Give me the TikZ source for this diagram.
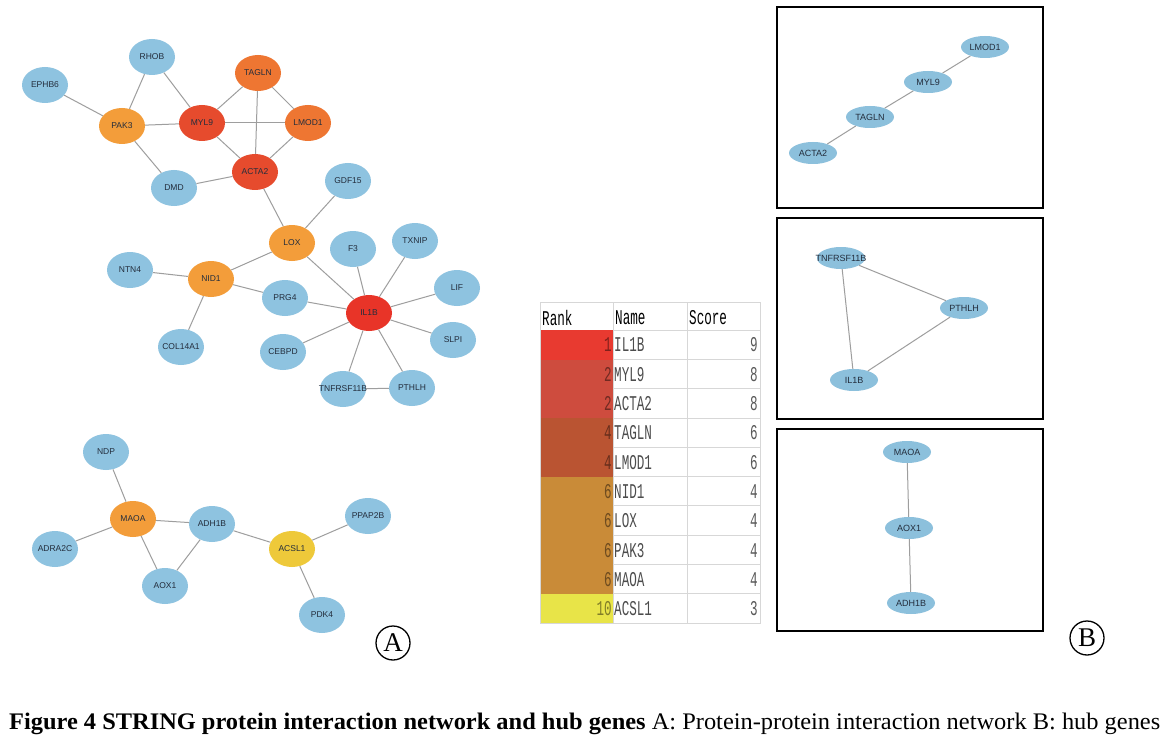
\documentclass[tikz,border=0pt]{standalone}
\usepackage{fontspec}
\usepackage{graphicx}
\setmainfont{Liberation Serif}
\newfontfamily\genefont{Liberation Sans}
\newfontfamily\tabfont{Liberation Mono}
\usetikzlibrary{shapes.geometric}
\definecolor{gblue}{RGB}{142,195,224}
\definecolor{bblue}{RGB}{140,192,220}
\definecolor{cRed}{RGB}{232,52,40}
\definecolor{cRedOr}{RGB}{230,75,45}
\definecolor{cOr}{RGB}{238,118,50}
\definecolor{cLtOr}{RGB}{243,157,58}
\definecolor{cYel}{RGB}{238,201,58}
\definecolor{edgegray}{RGB}{158,158,158}
\definecolor{gtext}{RGB}{35,45,60}
\definecolor{tA}{RGB}{232,58,48}
\definecolor{tB}{RGB}{206,76,62}
\definecolor{tC}{RGB}{186,84,50}
\definecolor{tD}{RGB}{201,139,56}
\definecolor{tE}{RGB}{232,228,72}
\definecolor{gridgray}{RGB}{215,215,215}
\newcommand\gl[1]{\makebox[0pt]{#1}}
\newcommand\tabtxt[1]{\scalebox{0.6}[1]{\tabfont\fontsize{21}{21}\selectfont #1}}
\tikzset{
  gene/.style={ellipse, minimum width=46, minimum height=36, inner sep=0, fill=gblue,
     text=gtext, font=\genefont\fontsize{8.5}{10}\selectfont},
  bgene/.style={ellipse, minimum width=48, minimum height=22, inner sep=0, fill=bblue,
     text=gtext, font=\genefont\fontsize{9}{10}\selectfont},
  link/.style={draw=edgegray, line width=1},
  panel/.style={draw=black, line width=2.6},
  rankcell/.style={rectangle, minimum width=73, minimum height=29.3, inner sep=0, anchor=north west},
  lefttxt/.style={anchor=west, inner sep=0, text=black!70},
  righttxt/.style={anchor=east, inner sep=0},
  panellabel/.style={circle, draw=black, line width=1.3, minimum size=34, inner sep=0,
     font=\fontsize{27}{27}\selectfont}
}
\begin{document}
\begin{tikzpicture}[x=1pt,y=-1pt]
\useasboundingbox[fill=white] (0,0) rectangle (1168,741);
% ---------- network A ----------
\node[gene] (RHOB) at (152,57) {\gl{RHOB}};
\node[gene] (EPHB6) at (45,85) {\gl{EPHB6}};
\node[gene, fill=cOr] (TAGLN) at (258,73) {\gl{TAGLN}};
\node[gene, fill=cLtOr] (PAK3) at (122,126) {\gl{PAK3}};
\node[gene, fill=cRedOr] (MYL9) at (202,123) {\gl{MYL9}};
\node[gene, fill=cOr] (LMOD1) at (308,123) {\gl{LMOD1}};
\node[gene, fill=cRedOr] (ACTA2) at (255,172) {\gl{ACTA2}};
\node[gene] (DMD) at (174,188) {\gl{DMD}};
\node[gene] (GDF15) at (348,181) {\gl{GDF15}};
\node[gene, fill=cLtOr] (LOX) at (292,243) {\gl{LOX}};
\node[gene] (F3) at (353,249) {\gl{F3}};
\node[gene] (TXNIP) at (415,241) {\gl{TXNIP}};
\node[gene] (NTN4) at (130,270) {\gl{NTN4}};
\node[gene, fill=cLtOr] (NID1) at (211,279) {\gl{NID1}};
\node[gene] (LIF) at (457,288) {\gl{LIF}};
\node[gene] (PRG4) at (285,298) {\gl{PRG4}};
\node[gene, fill=cRed] (IL1B) at (369,313) {\gl{IL1B}};
\node[gene] (SLPI) at (453,340) {\gl{SLPI}};
\node[gene] (COL14A1) at (181,347) {\gl{COL14A1}};
\node[gene] (CEBPD) at (283,352) {\gl{CEBPD}};
\node[gene] (TNFRSF11B) at (343,389) {\gl{TNFRSF11B}};
\node[gene] (PTHLH) at (412,388) {\gl{PTHLH}};
\node[gene] (NDP) at (106,452) {\gl{NDP}};
\node[gene, fill=cLtOr] (MAOA) at (133,519) {\gl{MAOA}};
\node[gene] (ADH1B) at (212,524) {\gl{ADH1B}};
\node[gene] (PPAP2B) at (368,516) {\gl{PPAP2B}};
\node[gene] (ADRA2C) at (55,549) {\gl{ADRA2C}};
\node[gene, fill=cYel] (ACSL1) at (292,549) {\gl{ACSL1}};
\node[gene] (AOX1) at (165,586) {\gl{AOX1}};
\node[gene] (PDK4) at (322,615) {\gl{PDK4}};
\foreach \a/\b in {EPHB6/PAK3, RHOB/PAK3, RHOB/MYL9, PAK3/MYL9, PAK3/DMD,
  MYL9/TAGLN, MYL9/LMOD1, MYL9/ACTA2, TAGLN/LMOD1, TAGLN/ACTA2, LMOD1/ACTA2,
  DMD/ACTA2, ACTA2/LOX, GDF15/LOX, LOX/NID1, LOX/IL1B, NTN4/NID1, NID1/PRG4,
  NID1/COL14A1, PRG4/IL1B, F3/IL1B, TXNIP/IL1B, LIF/IL1B, SLPI/IL1B, CEBPD/IL1B,
  TNFRSF11B/IL1B, PTHLH/IL1B, TNFRSF11B/PTHLH, NDP/MAOA, MAOA/ADH1B, MAOA/ADRA2C,
  MAOA/AOX1, AOX1/ADH1B, ADH1B/ACSL1, ACSL1/PPAP2B, ACSL1/PDK4}
  \draw[link] (\a) -- (\b);
\node[panellabel] (labA) at (393,643) {A};
% ---------- table ----------
\foreach \i/\c in {0/tA,1/tB,2/tB,3/tC,4/tC,5/tD,6/tD,7/tD,8/tD,9/tE}
  \node[rankcell, fill=\c] (rc\i) at (540,{330+\i*29.3}) {};
\foreach \i in {0,...,10}
  \draw[gridgray, line width=0.8] (613,{330+\i*29.3}) -- (760,{330+\i*29.3});
\draw[gridgray, line width=0.8] (540,302) rectangle (760,623);
\draw[gridgray, line width=0.8] (613,302) -- (613,623);
\draw[gridgray, line width=0.8] (687,302) -- (687,623);
\node[anchor=west, inner sep=0] (hRank) at (542,318) {\tabtxt{Rank}};
\node[anchor=west, inner sep=0] (hName) at (615,318) {\tabtxt{Name}};
\node[anchor=west, inner sep=0] (hScore) at (689,318) {\tabtxt{Score}};
\foreach \i/\r/\n/\s/\c in {0/1/IL1B/9/tA, 1/2/MYL9/8/tB, 2/2/ACTA2/8/tB, 3/4/TAGLN/6/tC,
   4/4/LMOD1/6/tC, 5/6/NID1/4/tD, 6/6/LOX/4/tD, 7/6/PAK3/4/tD, 8/6/MAOA/4/tD, 9/10/ACSL1/3/tE}{
  \node[righttxt, text=\c!55!black] (rk\i) at (612,{345+\i*29.3}) {\tabtxt{\r}};
  \node[lefttxt] (nm\i) at (614,{345+\i*29.3}) {\tabtxt{\n}};
  \node[righttxt, text=black!65] (sc\i) at (758,{345+\i*29.3}) {\tabtxt{\s}};
}
% ---------- panels B ----------
\draw[panel] (777,7) rectangle (1043,208);
\draw[panel] (777,218) rectangle (1043,419);
\draw[panel] (777,429) rectangle (1043,631);
\node[bgene] (bLMOD1) at (985,47) {\gl{LMOD1}};
\node[bgene] (bMYL9) at (928,82) {\gl{MYL9}};
\node[bgene] (bTAGLN) at (870,117) {\gl{TAGLN}};
\node[bgene] (bACTA2) at (813,153) {\gl{ACTA2}};
\draw[link] (bLMOD1) -- (bMYL9);
\draw[link] (bMYL9) -- (bTAGLN);
\draw[link] (bTAGLN) -- (bACTA2);
\node[bgene] (bTNF) at (841,258) {\gl{TNFRSF11B}};
\node[bgene] (bPTHLH) at (964,308) {\gl{PTHLH}};
\node[bgene] (bIL1B) at (854,380) {\gl{IL1B}};
\draw[link] (bTNF) -- (bPTHLH);
\draw[link] (bTNF) -- (bIL1B);
\draw[link] (bPTHLH) -- (bIL1B);
\node[bgene] (bMAOA) at (907,452) {\gl{MAOA}};
\node[bgene] (bAOX1) at (909,528) {\gl{AOX1}};
\node[bgene] (bADH1B) at (911,603) {\gl{ADH1B}};
\draw[link] (bMAOA) -- (bAOX1);
\draw[link] (bAOX1) -- (bADH1B);
\node[panellabel] (labB) at (1087,638) {B};
% ---------- caption ----------
\node[inner sep=0, anchor=base west] (cap) at (9,729) {\resizebox{1151pt}{1.25\height}{\fontsize{19}{21}\selectfont
  \textbf{Figure 4 STRING protein interaction network and hub genes} A: Protein-protein interaction network B: hub genes}};
\end{tikzpicture}
\end{document}
